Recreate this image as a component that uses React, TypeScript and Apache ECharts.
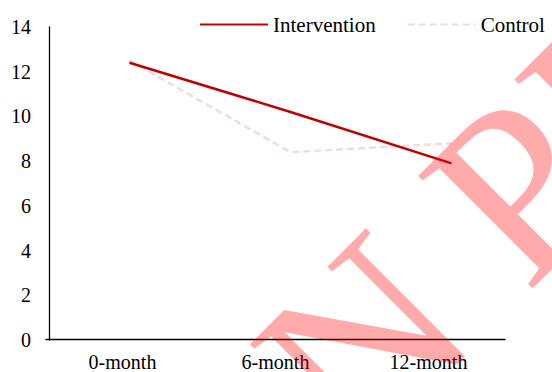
import React, { useEffect, useRef } from "react";
import * as echarts from "echarts";

const categories = ["0-month", "6-month", "12-month"];
const interventionValues = [12.4, 10.2, 7.9];
const controlValues = [12.5, 8.4, 8.8];
const seriesNames = ["Intervention", "Control"];
const yMin = 0;
const yMax = 14;
const yStep = 2;

export default function App() {
  const ref = useRef<HTMLDivElement>(null);
  useEffect(() => {
    if (!ref.current) return;
    const chart = echarts.init(ref.current, null, { renderer: "svg" });
    const font = "Liberation Serif";
    const S = Math.SQRT1_2;
    const toImg = (xp: number, yp: number) => [(xp + yp) * S, (yp - xp) * S];
    const wmPos = toImg(-74, 498);
    chart.setOption({
      animation: false,
      backgroundColor: "#ffffff",
      grid: [
        { left: 49, right: 20, top: 27, bottom: 32, containLabel: false },
        { left: 46, width: 459, top: 27, bottom: 32, containLabel: false },
      ],
      legend: {
        left: 199,
        top: 14,
        padding: 0,
        itemWidth: 68,
        itemHeight: 14,
        itemGap: 31,
        itemStyle: { opacity: 0 },
        textStyle: { fontFamily: font, fontSize: 21, color: "#000" },
        data: seriesNames,
      },
      xAxis: [
        {
          type: "category",
          gridIndex: 0,
          data: categories,
          boundaryGap: true,
          show: false,
        },
        {
          type: "category",
          gridIndex: 1,
          data: categories,
          boundaryGap: true,
          axisLine: { show: true, lineStyle: { color: "#000", width: 1.3 } },
          axisTick: { show: false },
          axisLabel: { fontFamily: font, fontSize: 20, color: "#000", margin: 13 },
          splitLine: { show: false },
        },
      ],
      yAxis: [
        {
          type: "value",
          gridIndex: 0,
          min: yMin,
          max: yMax,
          interval: yStep,
          axisLine: { show: true, lineStyle: { color: "#000", width: 1.3 } },
          axisTick: { show: false },
          splitLine: { show: false },
          axisLabel: { fontFamily: font, fontSize: 20, color: "#000", margin: 18 },
        },
        {
          type: "value",
          gridIndex: 1,
          min: yMin,
          max: yMax,
          interval: yStep,
          show: false,
          splitLine: { show: false },
        },
      ],
      series: [
        {
          name: seriesNames[0],
          type: "line",
          xAxisIndex: 0,
          yAxisIndex: 0,
          data: interventionValues,
          symbol: "none",
          z: 3,
          lineStyle: { color: "#c00000", width: 2.5 },
          itemStyle: { color: "#c00000" },
        },
        {
          name: seriesNames[1],
          type: "line",
          xAxisIndex: 0,
          yAxisIndex: 0,
          data: controlValues,
          symbol: "none",
          z: 2,
          lineStyle: { color: "#f2dcdb", width: 2.5, type: [7, 4] },
          itemStyle: { color: "#f2dcdb" },
        },
      ],
      graphic: [
        {
          type: "text",
          x: wmPos[0],
          y: wmPos[1],
          rotation: Math.PI / 4,
          z: 100,
          silent: true,
          style: {
            text: "N PR",
            font: "245px 'Liberation Serif'",
            fill: "rgba(255,0,0,0.33)",
            textAlign: "left",
            textVerticalAlign: "middle",
          },
        },
      ],
    });
    return () => chart.dispose();
  }, []);
  return <div ref={ref} style={{ width: 552, height: 372, position: "absolute", left: 0, top: 0 }} />;
}
